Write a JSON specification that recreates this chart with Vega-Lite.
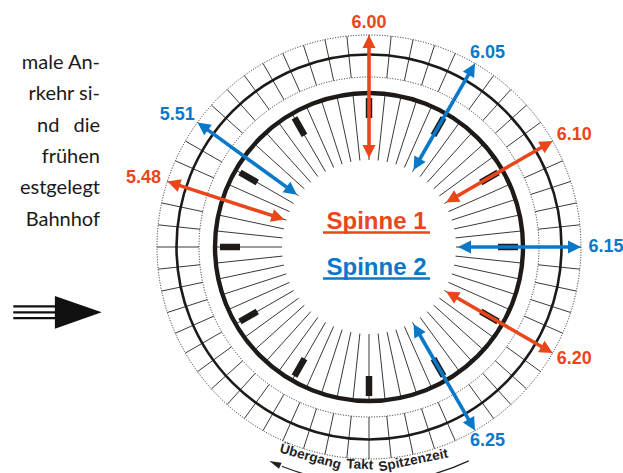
{
  "$schema": "https://vega.github.io/schema/vega-lite/v6.json",
  "width": 623,
  "height": 473,
  "autosize": {"type": "none"},
  "padding": 0,
  "background": "white",
  "config": {"view": {"stroke": null}},
  "datasets": {
    "minutes": [
      {"m":0},{"m":1},{"m":2},{"m":3},{"m":4},{"m":5},{"m":6},{"m":7},{"m":8},{"m":9},
      {"m":10},{"m":11},{"m":12},{"m":13},{"m":14},{"m":15},{"m":16},{"m":17},{"m":18},{"m":19},
      {"m":20},{"m":21},{"m":22},{"m":23},{"m":24},{"m":25},{"m":26},{"m":27},{"m":28},{"m":29},
      {"m":30},{"m":31},{"m":32},{"m":33},{"m":34},{"m":35},{"m":36},{"m":37},{"m":38},{"m":39},
      {"m":40},{"m":41},{"m":42},{"m":43},{"m":44},{"m":45},{"m":46},{"m":47},{"m":48},{"m":49},
      {"m":50},{"m":51},{"m":52},{"m":53},{"m":54},{"m":55},{"m":56},{"m":57},{"m":58},{"m":59}
    ],
    "arrows": [
      {"label": "6.00", "m": 0, "spinne": "Spinne 1"},
      {"label": "6.05", "m": 5, "spinne": "Spinne 2"},
      {"label": "6.10", "m": 10, "spinne": "Spinne 1"},
      {"label": "6.15", "m": 15, "spinne": "Spinne 2"},
      {"label": "6.20", "m": 20, "spinne": "Spinne 1"},
      {"label": "6.25", "m": 25, "spinne": "Spinne 2"},
      {"label": "5.51", "m": -9, "spinne": "Spinne 2"},
      {"label": "5.48", "m": -12, "spinne": "Spinne 1"}
    ],
    "spinnen": [
      {"spinne": "Spinne 1", "row": 0},
      {"spinne": "Spinne 2", "row": 1}
    ],
    "words": [
      {"word": "Übergang", "m": 32.6},
      {"word": "Takt", "m": 30.4},
      {"word": "Spitzenzeit", "m": 28.05}
    ],
    "lines": [
      {"line": 1, "start": "", "end": "male An-"},
      {"line": 2, "start": "", "end": "rkehr si-"},
      {"line": 3, "start": "nd", "end": "die"},
      {"line": 4, "start": "", "end": "frühen"},
      {"line": 5, "start": "", "end": "estgelegt"},
      {"line": 6, "start": "", "end": "Bahnhof"}
    ]
  },
  "layer": [
    {
      "data": {"name": "minutes"},
      "transform": [
        {"calculate": "datum.m*PI/30", "as": "t"},
        {"calculate": "170*sin(datum.t)", "as": "x"},
        {"calculate": "170*cos(datum.t)", "as": "y"},
        {"calculate": "212*sin(datum.t)", "as": "x2"},
        {"calculate": "212*cos(datum.t)", "as": "y2"}
      ],
      "mark": {"type": "rule", "stroke": "#222", "strokeWidth": 0.9},
      "encoding": {
        "x": {"field": "x", "type": "quantitative", "scale": {"domain": [-369, 254], "nice": false, "zero": false}, "axis": null},
        "y": {"field": "y", "type": "quantitative", "scale": {"domain": [-226, 247], "nice": false, "zero": false}, "axis": null},
        "x2": {"field": "x2"},
        "y2": {"field": "y2"}
      }
    },
    {
      "data": {"name": "minutes"},
      "transform": [
        {"calculate": "datum.m*PI/30", "as": "t"},
        {"calculate": "87*sin(datum.t)", "as": "x"},
        {"calculate": "87*cos(datum.t)", "as": "y"},
        {"calculate": "154*sin(datum.t)", "as": "x2"},
        {"calculate": "154*cos(datum.t)", "as": "y2"}
      ],
      "mark": {"type": "rule", "stroke": "#222", "strokeWidth": 0.9},
      "encoding": {
        "x": {"field": "x", "type": "quantitative", "scale": {"domain": [-369, 254], "nice": false, "zero": false}, "axis": null},
        "y": {"field": "y", "type": "quantitative", "scale": {"domain": [-226, 247], "nice": false, "zero": false}, "axis": null},
        "x2": {"field": "x2"},
        "y2": {"field": "y2"}
      }
    },
    {
      "data": {"values": [{}]},
      "mark": {"type": "arc", "radius": 170, "radius2": 0, "theta": 0, "theta2": 6.2832, "filled": false, "fill": null, "stroke": "#222", "strokeWidth": 1, "strokeDash": [1, 1.6]},
      "encoding": {
        "x": {"datum": 0, "type": "quantitative", "scale": {"domain": [-369, 254], "nice": false, "zero": false}, "axis": null},
        "y": {"datum": 0, "type": "quantitative", "scale": {"domain": [-226, 247], "nice": false, "zero": false}, "axis": null}
      }
    },
    {
      "data": {"values": [{}]},
      "mark": {"type": "arc", "radius": 212, "radius2": 0, "theta": 0, "theta2": 6.2832, "filled": false, "fill": null, "stroke": "#222", "strokeWidth": 1, "strokeDash": [1, 1.6]},
      "encoding": {
        "x": {"datum": 0, "type": "quantitative", "scale": {"domain": [-369, 254], "nice": false, "zero": false}, "axis": null},
        "y": {"datum": 0, "type": "quantitative", "scale": {"domain": [-226, 247], "nice": false, "zero": false}, "axis": null}
      }
    },
    {
      "data": {"values": [{}]},
      "mark": {"type": "arc", "radius": 192.5, "radius2": 0, "theta": 0, "theta2": 6.2832, "filled": false, "fill": null, "stroke": "#1e1a18", "strokeWidth": 2.6},
      "encoding": {
        "x": {"datum": 0, "type": "quantitative", "scale": {"domain": [-369, 254], "nice": false, "zero": false}, "axis": null},
        "y": {"datum": 0, "type": "quantitative", "scale": {"domain": [-226, 247], "nice": false, "zero": false}, "axis": null}
      }
    },
    {
      "data": {"values": [{}]},
      "mark": {"type": "arc", "radius": 154, "radius2": 0, "theta": 0, "theta2": 6.2832, "filled": false, "fill": null, "stroke": "#1e1a18", "strokeWidth": 4.4},
      "encoding": {
        "x": {"datum": 0, "type": "quantitative", "scale": {"domain": [-369, 254], "nice": false, "zero": false}, "axis": null},
        "y": {"datum": 0, "type": "quantitative", "scale": {"domain": [-226, 247], "nice": false, "zero": false}, "axis": null}
      }
    },
    {
      "data": {"name": "minutes"},
      "transform": [
        {"filter": "datum.m % 5 == 0"},
        {"calculate": "datum.m*PI/30", "as": "t"},
        {"calculate": "129*sin(datum.t)", "as": "x"},
        {"calculate": "129*cos(datum.t)", "as": "y"},
        {"calculate": "149*sin(datum.t)", "as": "x2"},
        {"calculate": "149*cos(datum.t)", "as": "y2"}
      ],
      "mark": {"type": "rule", "stroke": "#1e1a18", "strokeWidth": 6.5, "strokeCap": "butt"},
      "encoding": {
        "x": {"field": "x", "type": "quantitative", "scale": {"domain": [-369, 254], "nice": false, "zero": false}, "axis": null},
        "y": {"field": "y", "type": "quantitative", "scale": {"domain": [-226, 247], "nice": false, "zero": false}, "axis": null},
        "x2": {"field": "x2"},
        "y2": {"field": "y2"}
      }
    },
    {
      "data": {"values": [{}]},
      "mark": {"type": "arc", "radius": 236, "radius2": 236, "theta": 2.705, "theta2": 3.52, "filled": false, "fill": null, "stroke": "#222", "strokeWidth": 1.2},
      "encoding": {
        "x": {"datum": 0, "type": "quantitative", "scale": {"domain": [-369, 254], "nice": false, "zero": false}, "axis": null},
        "y": {"datum": 0, "type": "quantitative", "scale": {"domain": [-226, 247], "nice": false, "zero": false}, "axis": null}
      }
    },
    {
      "data": {"values": [{"m": 33.92}]},
      "transform": [
        {"calculate": "datum.m*PI/30", "as": "t"},
        {"calculate": "236*sin(datum.t)", "as": "x"},
        {"calculate": "236*cos(datum.t)", "as": "y"},
        {"calculate": "datum.m*6+90", "as": "a"}
      ],
      "mark": {"type": "point", "shape": "M0,-1L0.55,1L-0.55,1Z", "size": 144, "filled": true, "color": "#222", "opacity": 1, "strokeWidth": 0},
      "encoding": {
        "x": {"field": "x", "type": "quantitative", "scale": {"domain": [-369, 254], "nice": false, "zero": false}, "axis": null},
        "y": {"field": "y", "type": "quantitative", "scale": {"domain": [-226, 247], "nice": false, "zero": false}, "axis": null},
        "angle": {"field": "a", "type": "quantitative", "scale": null}
      }
    },
    {
      "data": {"name": "words"},
      "transform": [
        {"calculate": "datum.m*PI/30", "as": "t"},
        {"calculate": "218*sin(datum.t)", "as": "x"},
        {"calculate": "218*cos(datum.t)", "as": "y"},
        {"calculate": "datum.m*6-180", "as": "a"}
      ],
      "mark": {"type": "text", "font": "Liberation Sans", "fontSize": 13.5, "fontWeight": "bold", "color": "#222", "align": "center", "baseline": "middle"},
      "encoding": {
        "x": {"field": "x", "type": "quantitative", "scale": {"domain": [-369, 254], "nice": false, "zero": false}, "axis": null},
        "y": {"field": "y", "type": "quantitative", "scale": {"domain": [-226, 247], "nice": false, "zero": false}, "axis": null},
        "angle": {"field": "a", "type": "quantitative", "scale": null},
        "text": {"field": "word"}
      }
    },
    {
      "data": {"name": "arrows"},
      "transform": [
        {"calculate": "datum.m*PI/30", "as": "t"},
        {"calculate": "95*sin(datum.t)", "as": "x"},
        {"calculate": "95*cos(datum.t)", "as": "y"},
        {"calculate": "206*sin(datum.t)", "as": "x2"},
        {"calculate": "206*cos(datum.t)", "as": "y2"}
      ],
      "mark": {"type": "rule", "strokeWidth": 3.6},
      "encoding": {
        "x": {"field": "x", "type": "quantitative", "scale": {"domain": [-369, 254], "nice": false, "zero": false}, "axis": null},
        "y": {"field": "y", "type": "quantitative", "scale": {"domain": [-226, 247], "nice": false, "zero": false}, "axis": null},
        "x2": {"field": "x2"},
        "y2": {"field": "y2"},
        "color": {"field": "spinne", "type": "nominal", "scale": {"domain": ["Spinne 1", "Spinne 2"], "range": ["#e9471b", "#0a78c8"]}, "legend": null}
      }
    },
    {
      "data": {"name": "arrows"},
      "transform": [
        {"calculate": "datum.m*PI/30", "as": "t"},
        {"calculate": "205.5*sin(datum.t)", "as": "x"},
        {"calculate": "205.5*cos(datum.t)", "as": "y"},
        {"calculate": "datum.m*6", "as": "a"}
      ],
      "mark": {"type": "point", "shape": "M0,-1L1,1L-1,1Z", "size": 169, "filled": true, "opacity": 1, "strokeWidth": 0},
      "encoding": {
        "x": {"field": "x", "type": "quantitative", "scale": {"domain": [-369, 254], "nice": false, "zero": false}, "axis": null},
        "y": {"field": "y", "type": "quantitative", "scale": {"domain": [-226, 247], "nice": false, "zero": false}, "axis": null},
        "angle": {"field": "a", "type": "quantitative", "scale": null},
        "color": {"field": "spinne", "type": "nominal", "scale": {"domain": ["Spinne 1", "Spinne 2"], "range": ["#e9471b", "#0a78c8"]}, "legend": null}
      }
    },
    {
      "data": {"name": "arrows"},
      "transform": [
        {"calculate": "datum.m*PI/30", "as": "t"},
        {"calculate": "95.5*sin(datum.t)", "as": "x"},
        {"calculate": "95.5*cos(datum.t)", "as": "y"},
        {"calculate": "datum.m*6+180", "as": "a"}
      ],
      "mark": {"type": "point", "shape": "M0,-1L1,1L-1,1Z", "size": 169, "filled": true, "opacity": 1, "strokeWidth": 0},
      "encoding": {
        "x": {"field": "x", "type": "quantitative", "scale": {"domain": [-369, 254], "nice": false, "zero": false}, "axis": null},
        "y": {"field": "y", "type": "quantitative", "scale": {"domain": [-226, 247], "nice": false, "zero": false}, "axis": null},
        "angle": {"field": "a", "type": "quantitative", "scale": null},
        "color": {"field": "spinne", "type": "nominal", "scale": {"domain": ["Spinne 1", "Spinne 2"], "range": ["#e9471b", "#0a78c8"]}, "legend": null}
      }
    },
    {
      "data": {"name": "arrows"},
      "transform": [
        {"calculate": "datum.m*PI/30", "as": "t"},
        {"calculate": "237*sin(datum.t)", "as": "x"},
        {"calculate": "224*cos(datum.t)", "as": "y"}
      ],
      "mark": {"type": "text", "font": "Liberation Sans", "fontSize": 18, "fontWeight": "bold", "align": "center", "baseline": "middle"},
      "encoding": {
        "x": {"field": "x", "type": "quantitative", "scale": {"domain": [-369, 254], "nice": false, "zero": false}, "axis": null},
        "y": {"field": "y", "type": "quantitative", "scale": {"domain": [-226, 247], "nice": false, "zero": false}, "axis": null},
        "text": {"field": "label"},
        "color": {"field": "spinne", "type": "nominal", "scale": {"domain": ["Spinne 1", "Spinne 2"], "range": ["#e9471b", "#0a78c8"]}, "legend": null}
      }
    },
    {
      "data": {"name": "spinnen"},
      "transform": [
        {"calculate": "18 - 46*datum.row", "as": "y"}
      ],
      "mark": {"type": "text", "font": "Liberation Sans", "fontSize": 24, "fontWeight": "bold", "align": "center", "baseline": "alphabetic"},
      "encoding": {
        "x": {"datum": 7.5, "type": "quantitative", "scale": {"domain": [-369, 254], "nice": false, "zero": false}, "axis": null},
        "y": {"field": "y", "type": "quantitative", "scale": {"domain": [-226, 247], "nice": false, "zero": false}, "axis": null},
        "text": {"field": "spinne"},
        "color": {"field": "spinne", "type": "nominal", "scale": {"domain": ["Spinne 1", "Spinne 2"], "range": ["#e9471b", "#0a78c8"]}, "legend": null}
      }
    },
    {
      "data": {"name": "spinnen"},
      "transform": [
        {"calculate": "14.5 - 46*datum.row", "as": "y"}
      ],
      "mark": {"type": "rule", "strokeWidth": 2.6},
      "encoding": {
        "x": {"datum": -46, "type": "quantitative", "scale": {"domain": [-369, 254], "nice": false, "zero": false}, "axis": null},
        "x2": {"datum": 61},
        "y": {"field": "y", "type": "quantitative", "scale": {"domain": [-226, 247], "nice": false, "zero": false}, "axis": null},
        "color": {"field": "spinne", "type": "nominal", "scale": {"domain": ["Spinne 1", "Spinne 2"], "range": ["#e9471b", "#0a78c8"]}, "legend": null}
      }
    },
    {
      "data": {"name": "lines"},
      "transform": [
        {"calculate": "247 - (69 + (datum.line - 1)*31.3)", "as": "y"}
      ],
      "mark": {"type": "text", "font": "Lato", "fontSize": 20, "color": "#1a1a1a", "align": "left", "baseline": "alphabetic"},
      "encoding": {
        "x": {"datum": -332, "type": "quantitative", "scale": {"domain": [-369, 254], "nice": false, "zero": false}, "axis": null},
        "y": {"field": "y", "type": "quantitative", "scale": {"domain": [-226, 247], "nice": false, "zero": false}, "axis": null},
        "text": {"field": "start"}
      }
    },
    {
      "data": {"name": "lines"},
      "transform": [
        {"calculate": "247 - (69 + (datum.line - 1)*31.3)", "as": "y"}
      ],
      "mark": {"type": "text", "font": "Lato", "fontSize": 20, "color": "#1a1a1a", "align": "right", "baseline": "alphabetic"},
      "encoding": {
        "x": {"datum": -269, "type": "quantitative", "scale": {"domain": [-369, 254], "nice": false, "zero": false}, "axis": null},
        "y": {"field": "y", "type": "quantitative", "scale": {"domain": [-226, 247], "nice": false, "zero": false}, "axis": null},
        "text": {"field": "end"}
      }
    },
    {
      "data": {"values": [{"k": -1}, {"k": 0}, {"k": 1}]},
      "transform": [
        {"calculate": "-65.3 - 5.9*datum.k", "as": "y"}
      ],
      "mark": {"type": "rule", "stroke": "#111", "strokeWidth": 2.2},
      "encoding": {
        "x": {"datum": -355.7, "type": "quantitative", "scale": {"domain": [-369, 254], "nice": false, "zero": false}, "axis": null},
        "x2": {"datum": -305},
        "y": {"field": "y", "type": "quantitative", "scale": {"domain": [-226, 247], "nice": false, "zero": false}, "axis": null}
      }
    },
    {
      "data": {"values": [{}]},
      "mark": {"type": "point", "shape": "M-1,-0.7L1,0L-1,0.7Z", "size": 2190, "filled": true, "color": "#111", "opacity": 1, "strokeWidth": 0},
      "encoding": {
        "x": {"datum": -290.7, "type": "quantitative", "scale": {"domain": [-369, 254], "nice": false, "zero": false}, "axis": null},
        "y": {"datum": -65.3, "type": "quantitative", "scale": {"domain": [-226, 247], "nice": false, "zero": false}, "axis": null}
      }
    }
  ]
}
